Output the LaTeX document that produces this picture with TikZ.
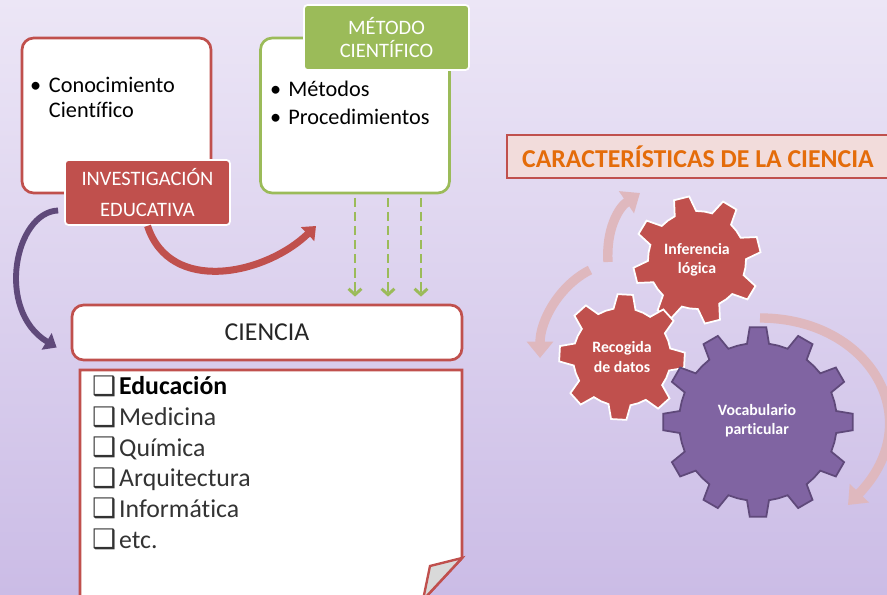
\documentclass[tikz,border=0pt]{standalone}
\usepackage{fontspec}
\setmainfont[Ligatures=NoCommon]{Carlito}
\newfontfamily\symfont{DejaVu Sans}
\usetikzlibrary{arrows.meta,calc}
\definecolor{rojo}{HTML}{C0504D}
\definecolor{verde}{HTML}{9BBB59}
\definecolor{morado}{HTML}{8064A2}
\definecolor{moradoosc}{HTML}{5F497A}
\definecolor{naranja}{HTML}{E46C0A}
\definecolor{rosaclaro}{HTML}{F2DCDB}
\definecolor{rosa}{RGB}{223,184,190}
\definecolor{fondoarriba}{RGB}{236,230,246}
\definecolor{fondoabajo}{RGB}{203,188,230}
\newcommand{\casilla}{\makebox[23pt][l]{\symfont\fontsize{23}{23}\selectfont\raisebox{-0.5pt}{❑}}}
\begin{document}
\begin{tikzpicture}[x=0.03cm, y=0.03cm,
        caja/.style={draw, line width=2.3pt, rounded corners=10pt, fill=white, minimum width=5.67cm, minimum height=4.65cm, inner sep=0pt},
        etiqueta/.style={draw=white, line width=1.5pt, rounded corners=3pt, text=white, align=center, minimum width=4.95cm, minimum height=1.95cm, inner sep=0pt},
        txt/.style={inner sep=0pt, font=\fontsize{19}{21.3}\selectfont},
        item/.style={inner sep=0pt, text=black!80, font=\fontsize{22}{26}\selectfont},
        rueda/.style={draw=white, line width=1.5pt},
        ruedatxt/.style={text=white, align=center, font=\bfseries\fontsize{13.5}{16.5}\selectfont},
        giro/.style={line width=8pt, rosa, -{Triangle[length=14pt,width=22pt]}},
        flecha/.style={line width=6pt, -{Triangle[length=10pt,width=16pt]}},
        punteada/.style={verde, line width=2.5pt, dash pattern=on 8pt off 4pt, -{Straight Barb[length=5pt,width=11pt]}}
    ]
    % fondo
    \fill[top color=fondoarriba, bottom color=fondoabajo] (0,0) rectangle (887,-595);
    \useasboundingbox (0,0) rectangle (887,-595);

    % cajas de arriba
    \node[caja, draw=rojo] (conbox) at (116.5,-115.5) {};
    \node[txt, anchor=base west] (conotext) at (30,-93)
        {\begin{tabular}[t]{@{}l@{}l@{}}\makebox[16pt][l]{•}&Conocimiento\\&Científico\end{tabular}};
    \node[etiqueta, fill=rojo, font=\fontsize{17.5}{26.5}\selectfont] (invbox) at (147.5,-192.5) {INVESTIGACIÓN\\EDUCATIVA};

    \node[caja, draw=verde] (metbox) at (355,-115.5) {};
    \node[etiqueta, fill=verde, font=\fontsize{17.5}{19.6}\selectfont] (mettitle) at (386.5,-37.5) {MÉTODO\\CIENTÍFICO};
    \node[txt, anchor=base west] (met1) at (270,-97) {\makebox[15.5pt][l]{•}Métodos};
    \node[txt, anchor=base west] (met2) at (270,-125) {\makebox[15.5pt][l]{•}Procedimientos};

    % ciencia
    \node[draw=rojo, line width=2.3pt, rounded corners=10pt, fill=white, minimum width=11.7cm, minimum height=1.65cm,
        text=black!85, font=\fontsize{22}{26}\selectfont] (ciencia) at (267,-332.5) {CIENCIA};
    \draw[rojo, line width=2.3pt, fill=white] (80,-370) -- (462,-370) -- (462,-558) -- (423,-600) -- (80,-600) -- cycle;
    \draw[rojo, line width=2pt, fill=black!15] (462,-558) -- (430,-566) -- (423,-600) -- cycle;
    \foreach \i/\t in {1/{\textbf{\color{black}Educación}},2/Medicina,3/Química,4/Arquitectura,5/Informática,6/etc.}
        \node[item, anchor=base west] (area\i) at (92,{-395-30.6*(\i-1)}) {\casilla\t};

    % flechas
    \coordinate (puntaroja) at (316,-226);
    \draw[flecha, rojo] (invbox.south) .. controls (170,-295) and (265,-275) .. (puntaroja);
    \draw[flecha, moradoosc, line width=5pt] ($(invbox.west)+(-6,-18)$) .. controls (15,-212) and (-5,-310) .. ($(ciencia.west)+(-14,-15)$);
    \foreach \dx in {0,33,66}
        \draw[punteada] ([xshift=\dx*0.03cm,yshift=-3pt]metbox.south) -- ([xshift=\dx*0.03cm,yshift=6pt]metbox.south |- ciencia.north);

    % caracteristicas
    \node[draw=rojo, fill=rosaclaro, line width=1.8pt, text=naranja, font=\bfseries\fontsize{22}{26}\selectfont,
        minimum width=11.46cm, minimum height=1.29cm] (titulo) at (698,-156.5) {CARACTERÍSTICAS DE LA CIENCIA};

    \draw[giro] (608,-262) .. controls (606,-230) and (618,-208) .. (640,-193);
    \draw[giro] (590,-270) .. controls (560,-285) and (540,-320) .. (540,-358);
    \draw[giro] (760,-318) .. controls (870,-318) and (930,-420) .. (848,-505);

    \begin{scope}[shift={(697,-260)}]
        \draw[rueda, fill=rojo] (1:49) \foreach \a in {14,59,...,329}{ -- (\a-13:49) -- (\a-7:64) -- (\a+7:64) -- (\a+13:49) -- (\a+22.5:49)} -- cycle;
    \end{scope}
    \begin{scope}[shift={(622,-357)}]
        \draw[rueda, fill=rojo] (-16:49) \foreach \a in {-3,42,...,312}{ -- (\a-13:49) -- (\a-7:63) -- (\a+7:63) -- (\a+13:49) -- (\a+22.5:49)} -- cycle;
    \end{scope}
    \begin{scope}[shift={(758,-422)}]
        \draw[draw=moradoosc, line width=1.5pt, fill=morado] (-8:79) \foreach \a in {0,30,...,330}{ -- (\a-8:79) -- (\a-5:95) -- (\a+5:95) -- (\a+8:79) -- (\a+15:79)} -- cycle;
    \end{scope}
    \node[ruedatxt] (inferencia) at (697,-260) {Inferencia\\lógica};
    \node[ruedatxt] (recogida) at (622,-357) {Recogida\\de datos};
    \node[ruedatxt] (vocabulario) at (757,-421) {Vocabulario\\particular};
\end{tikzpicture}
\end{document}
